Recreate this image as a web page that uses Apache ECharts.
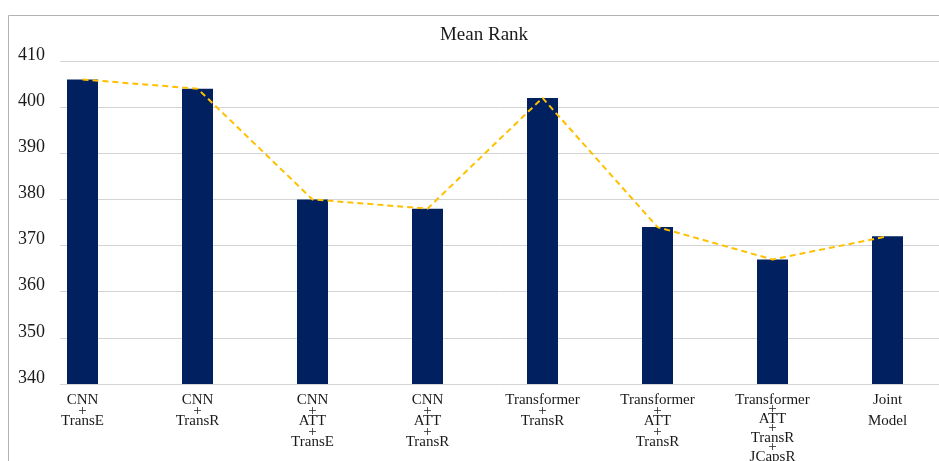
<!DOCTYPE html>
<html>
<head>
<meta charset="utf-8">
<script src="https://cdn.jsdelivr.net/npm/echarts@6/dist/echarts.min.js"></script>
<style>
  html, body { margin: 0; padding: 0; background: #fff; }
  #chart { width: 939px; height: 461px; }
</style>
</head>
<body>
<div id="chart"></div>
<script>
// 模型名称（横轴）
const categories = [
  'CNN\n+\nTransE',
  'CNN\n+\nTransR',
  'CNN\n+\nATT\n+\nTransE',
  'CNN\n+\nATT\n+\nTransR',
  'Transformer\n+\nTransR',
  'Transformer\n+\nATT\n+\nTransR',
  'Transformer\n+\nATT\n+\nTransR\n+\nJCapsR',
  'Joint\n\nModel'
]
// Mean Rank 数值
const meanRank = [406, 404, 380, 378, 402, 374, 367, 372]
// 纵轴刻度
const yMin = 340
const yMax = 410
const yStep = 10

const serif = 'Liberation Serif'
const chart = echarts.init(document.getElementById('chart'))

const option = {
  animation: false,
  title: {
    text: 'Mean Rank',
    left: 479,
    top: 21,
    textAlign: 'center',
    textStyle: { fontFamily: serif, fontSize: 19, fontWeight: 'normal', color: '#1a1a1a' }
  },
  graphic: [
    {
      type: 'polyline',
      shape: { points: [[8.5, 470], [8.5, 15.5], [945, 15.5]] },
      style: { stroke: '#b3b3b3', lineWidth: 1, fill: null },
      silent: true
    }
  ],
  grid: [
    // 柱子所在网格
    { left: 25, width: 920, top: 61, bottom: 77, outerBoundsMode: 'none' },
    // 网格线与纵轴标签
    { left: 60, right: 0, top: 61, bottom: 77, outerBoundsMode: 'none' }
  ],
  xAxis: [
    {
      type: 'category',
      gridIndex: 0,
      data: categories,
      axisLine: { show: false },
      axisTick: { show: false },
      axisLabel: {
        margin: 11,
        interval: 0,
        formatter: (v, i) => i === 6 ? '{t|' + v + '}' : '{n|' + v + '}',
        rich: {
          n: { fontFamily: serif, fontSize: 15, lineHeight: 10.5, color: '#1a1a1a', align: 'center' },
          t: { fontFamily: serif, fontSize: 15, lineHeight: 9.5, color: '#1a1a1a', align: 'center' }
        }
      }
    },
    { type: 'value', gridIndex: 1, show: false }
  ],
  yAxis: [
    { type: 'value', gridIndex: 0, min: yMin, max: yMax, interval: yStep, show: false },
    {
      type: 'value',
      gridIndex: 1,
      min: yMin,
      max: yMax,
      interval: yStep,
      axisLine: { show: false },
      axisTick: { show: false },
      splitLine: { show: true, lineStyle: { color: '#d4d4d4', width: 1 } },
      axisLabel: {
        margin: 15,
        fontFamily: serif,
        fontSize: 18,
        lineHeight: 12,
        verticalAlign: 'bottom',
        color: '#1a1a1a'
      }
    }
  ],
  series: [
    {
      type: 'bar',
      xAxisIndex: 0,
      yAxisIndex: 0,
      data: meanRank,
      barWidth: 31,
      itemStyle: { color: '#002060' },
      z: 2
    },
    {
      type: 'line',
      xAxisIndex: 0,
      yAxisIndex: 0,
      data: meanRank,
      symbol: 'none',
      lineStyle: { color: '#FFC000', width: 2, type: [6, 4] },
      z: 3
    }
  ]
}

chart.setOption(option)
</script>
</body>
</html>
